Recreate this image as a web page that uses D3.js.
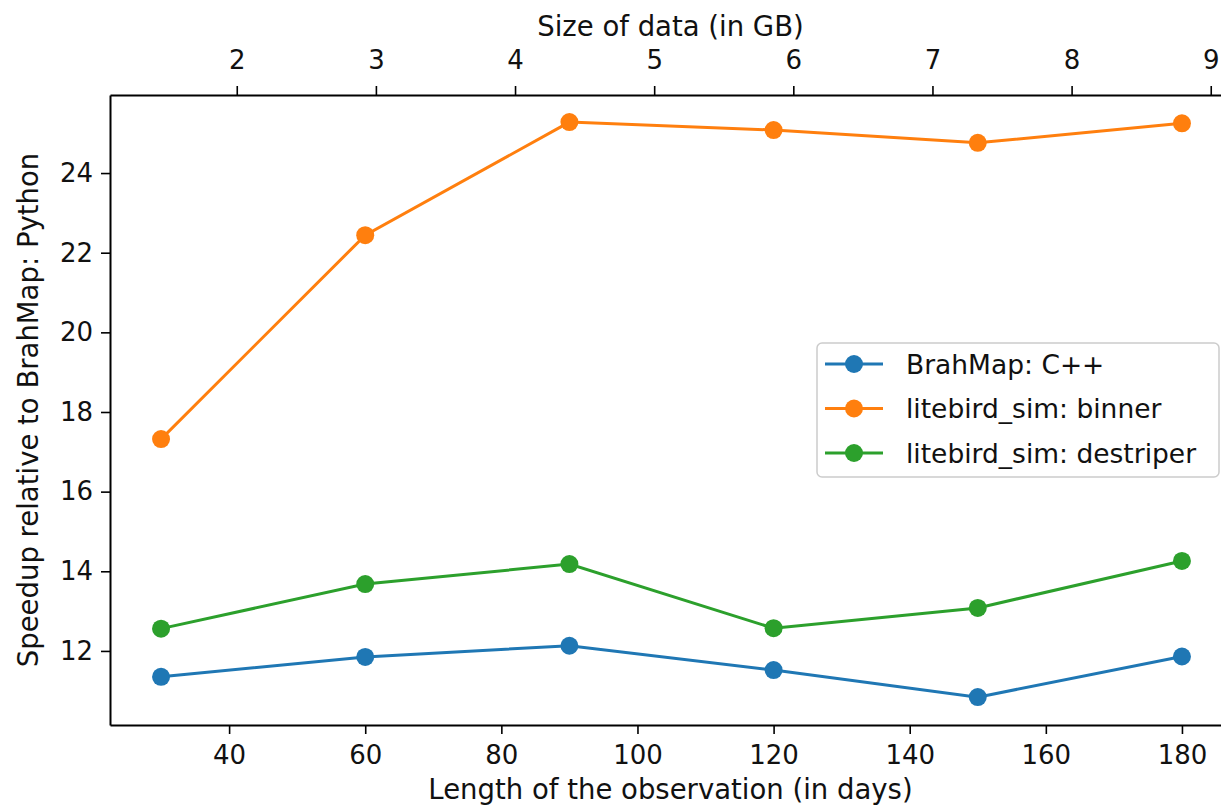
<!DOCTYPE html>
<html>
<head>
<meta charset="utf-8">
<script src="https://cdn.jsdelivr.net/npm/d3@7"></script>
<style>
  html, body { margin: 0; padding: 0; background: #fff; }
  svg { display: block; font-family: "DejaVu Sans", sans-serif; }
</style>
</head>
<body>
<svg id="chart" width="1221" height="807"></svg>
<script>
// ---- data ----
const days = [30, 60, 90, 120, 150, 180];
const brahmapCpp = [11.35, 11.85, 12.13, 11.52, 10.84, 11.86];
const lbsBinner = [17.32, 22.44, 25.28, 25.08, 24.76, 25.25];
const lbsDestriper = [12.56, 13.68, 14.18, 12.57, 13.08, 14.26];
const seriesNames = ["BrahMap: C++", "litebird_sim: binner", "litebird_sim: destriper"];
const seriesColors = ["#1f77b4", "#ff7f0e", "#2ca02c"];
const xTicks = [40, 60, 80, 100, 120, 140, 160, 180];
const yTicks = [12, 14, 16, 18, 20, 22, 24];
const gbTicks = [2, 3, 4, 5, 6, 7, 8, 9];

const series = [brahmapCpp, lbsBinner, lbsDestriper].map((vals, i) => ({
  name: seriesNames[i], color: seriesColors[i],
  points: days.map((d, j) => ({ x: d, y: vals[j] }))
}));

// ---- layout ----
const L = 110, R = 1233, T = 95, B = 725;
const TICK_FS = 26, LABEL_FS = 27.5, LEG_FS = 26.5;
const svg = d3.select("#chart");

const x = d3.scaleLinear().domain([22.5, 187.5]).range([L, R]);
const xTop = d3.scaleLinear().domain([1.089, 9.16]).range([L, R]);
const y = d3.scaleLinear().domain([10.14, 25.96]).range([B, T]);

function styleAxis(g) {
  g.selectAll("path.domain").attr("stroke", "#000").attr("stroke-width", 2);
  g.selectAll(".tick line").attr("stroke", "#000").attr("stroke-width", 1.6);
  g.selectAll(".tick text").attr("fill", "#111").style("font-size", TICK_FS + "px")
    .style("font-family", "'DejaVu Sans', sans-serif");
}

// bottom axis
svg.append("g").attr("transform", `translate(0,${B})`)
  .call(d3.axisBottom(x).tickValues(xTicks).tickSize(9).tickPadding(12).tickSizeOuter(0))
  .call(styleAxis);
// top axis
svg.append("g").attr("transform", `translate(0,${T})`)
  .call(d3.axisTop(xTop).tickValues(gbTicks).tickFormat(d3.format("d")).tickSize(9).tickPadding(17).tickSizeOuter(0))
  .call(styleAxis);
// left axis
svg.append("g").attr("transform", `translate(${L},0)`)
  .call(d3.axisLeft(y).tickValues(yTicks).tickSize(9).tickPadding(8).tickSizeOuter(0))
  .call(styleAxis);
// right spine (off-canvas)
svg.append("line").attr("x1", R).attr("x2", R).attr("y1", T).attr("y2", B)
  .attr("stroke", "#000").attr("stroke-width", 2);

// lines
const line = d3.line().x(d => x(d.x)).y(d => y(d.y));
const sg = svg.append("g");
series.forEach(s => {
  sg.append("path").datum(s.points).attr("d", line)
    .attr("fill", "none").attr("stroke", s.color).attr("stroke-width", 3);
  sg.selectAll(null).data(s.points).enter().append("circle")
    .attr("cx", d => x(d.x)).attr("cy", d => y(d.y)).attr("r", 9)
    .attr("fill", s.color);
});

// labels
svg.append("text").attr("x", (L + R) / 2 - 1).attr("y", 36).attr("text-anchor", "middle")
  .attr("fill", "#111").style("font-size", LABEL_FS + "px").text("Size of data (in GB)");
svg.append("text").attr("x", (L + R) / 2 - 1).attr("y", 799).attr("text-anchor", "middle")
  .attr("fill", "#111").style("font-size", LABEL_FS + "px").text("Length of the observation (in days)");
svg.append("text").attr("transform", `translate(38,${(T + B) / 2}) rotate(-90)`)
  .attr("text-anchor", "middle").attr("fill", "#111").style("font-size", LABEL_FS + "px")
  .text("Speedup relative to BrahMap: Python");

// legend
const lg = svg.append("g");
lg.append("rect").attr("x", 817).attr("y", 343).attr("width", 402).attr("height", 134)
  .attr("rx", 5).attr("fill", "#fff").attr("fill-opacity", 0.8)
  .attr("stroke", "#cccccc").attr("stroke-width", 1.5);
series.forEach((s, i) => {
  const cy = 364 + i * 44.5;
  lg.append("line").attr("x1", 825).attr("x2", 883).attr("y1", cy).attr("y2", cy)
    .attr("stroke", s.color).attr("stroke-width", 3);
  lg.append("circle").attr("cx", 854).attr("cy", cy).attr("r", 9).attr("fill", s.color);
  lg.append("text").attr("x", 906).attr("y", cy + 9.5).style("font-size", LEG_FS + "px")
    .attr("fill", "#111").text(s.name);
});
</script>
</body>
</html>
